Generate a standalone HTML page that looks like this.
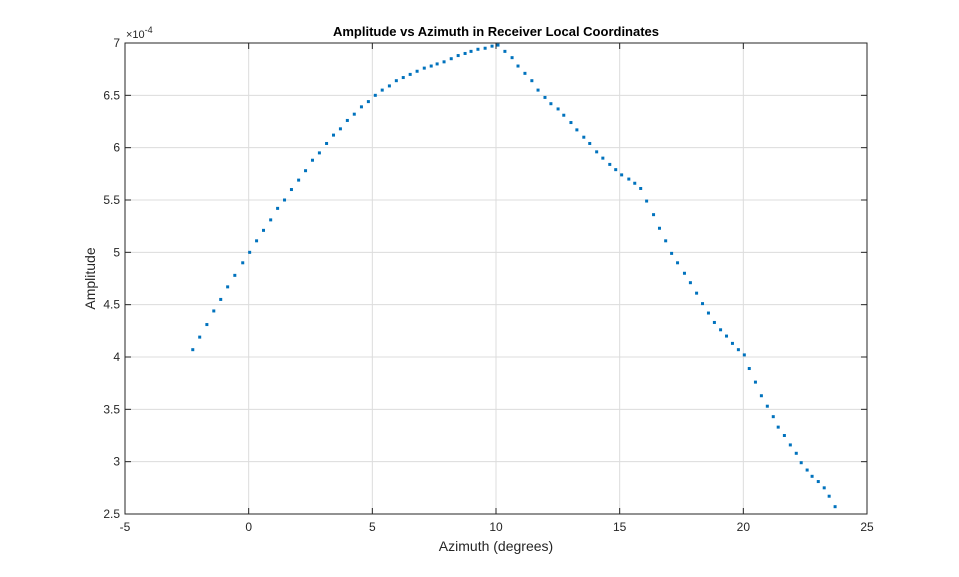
<!DOCTYPE html>
<html><head><meta charset="utf-8"><style>
body{margin:0;background:#fff;}
svg{display:block;font-family:"Liberation Sans",sans-serif;}
</style></head><body>
<svg id="chart" width="959" height="577" viewBox="0 0 959 577"></svg>
<script>
const azimuth=[-2.26,-1.98,-1.69,-1.41,-1.13,-0.85,-0.56,-0.24,0.04,0.32,0.60,0.89,1.17,1.45,1.73,2.02,2.30,2.58,2.86,3.15,3.43,3.71,3.99,4.27,4.56,4.84,5.12,5.40,5.69,5.97,6.25,6.53,6.81,7.10,7.38,7.62,7.90,8.19,8.47,8.75,8.99,9.27,9.56,9.84,10.08,10.36,10.65,10.89,11.17,11.45,11.70,11.98,12.22,12.51,12.74,13.03,13.27,13.55,13.79,14.07,14.32,14.60,14.84,15.08,15.37,15.61,15.85,16.09,16.37,16.61,16.86,17.10,17.34,17.62,17.86,18.11,18.35,18.59,18.83,19.08,19.32,19.56,19.80,20.04,20.24,20.49,20.73,20.97,21.21,21.41,21.66,21.90,22.14,22.34,22.58,22.78,23.03,23.27,23.47,23.71];
const amplitude=[4.07,4.19,4.31,4.44,4.55,4.67,4.78,4.90,5.00,5.11,5.21,5.31,5.42,5.50,5.60,5.69,5.78,5.88,5.95,6.04,6.12,6.18,6.26,6.32,6.39,6.44,6.50,6.55,6.59,6.64,6.67,6.70,6.73,6.76,6.78,6.80,6.82,6.85,6.88,6.90,6.92,6.94,6.95,6.97,6.98,6.92,6.86,6.78,6.71,6.64,6.55,6.48,6.42,6.37,6.31,6.24,6.17,6.10,6.04,5.96,5.90,5.84,5.79,5.74,5.70,5.66,5.61,5.49,5.36,5.23,5.11,4.99,4.90,4.80,4.71,4.61,4.51,4.42,4.33,4.26,4.20,4.13,4.07,4.02,3.89,3.76,3.63,3.53,3.43,3.33,3.25,3.16,3.08,2.99,2.92,2.86,2.81,2.75,2.67,2.57];
const xTicks=[-5,0,5,10,15,20,25];
const yTicks=[2.5,3,3.5,4,4.5,5,5.5,6,6.5,7];
const xTickLabels=["-5","0","5","10","15","20","25"];
const yTickLabels=["2.5","3","3.5","4","4.5","5","5.5","6","6.5","7"];

const L=125,R=867,T=43,B=514;
const xMin=-5,xMax=25,yMin=2.5,yMax=7;
const sx=v=>L+(v-xMin)/(xMax-xMin)*(R-L);
const sy=v=>B-(v-yMin)/(yMax-yMin)*(B-T);
const NS="http://www.w3.org/2000/svg";
const svg=document.getElementById('chart');
function mk(tag,attrs,parent){const e=document.createElementNS(NS,tag);for(const k in attrs)e.setAttribute(k,attrs[k]);(parent||svg).appendChild(e);return e;}

const bg=mk('rect',{x:L,y:T,width:R-L,height:B-T,fill:'#fff'});



const grid=mk('g',{stroke:'#dcdcdc','stroke-width':1});


xTicks.forEach(v=>{if(v>xMin&&v<xMax)mk('line',{x1:sx(v),x2:sx(v),y1:T,y2:B},grid);});
yTicks.forEach(v=>{if(v>yMin&&v<yMax)mk('line',{x1:L,x2:R,y1:sy(v),y2:sy(v)},grid);});

const box=mk('rect',{x:L,y:T,width:R-L,height:B-T,fill:'none',stroke:'#262626','stroke-width':1});



const ticks=mk('g',{stroke:'#262626','stroke-width':1});


xTicks.forEach((v,i)=>{
  mk('line',{x1:sx(v),x2:sx(v),y1:B,y2:B-6},ticks);
  mk('line',{x1:sx(v),x2:sx(v),y1:T,y2:T+6},ticks);
  const t=mk('text',{x:sx(v),y:B+17,'text-anchor':'middle','font-size':12,fill:'#262626'});
  
  
  t.textContent=xTickLabels[i];
});
yTicks.forEach((v,i)=>{
  mk('line',{x1:L,x2:L+6,y1:sy(v),y2:sy(v)},ticks);
  mk('line',{x1:R,x2:R-6,y1:sy(v),y2:sy(v)},ticks);
  const t=mk('text',{x:L-5,y:sy(v)+4,'text-anchor':'end','font-size':12,fill:'#262626'});
  
  
  t.textContent=yTickLabels[i];
});

const pts=mk('g',{fill:'#0072BD'});


azimuth.forEach((a,i)=>{
  const r=mk('rect',{x:sx(a)-1.5,y:sy(amplitude[i])-1.5,width:3,height:3},pts);
  
  
});

const title=mk('text',{x:(L+R)/2,y:36,'text-anchor':'middle','font-size':13,'font-weight':'bold',fill:'#000'});


title.textContent='Amplitude vs Azimuth in Receiver Local Coordinates';

const xl=mk('text',{x:(L+R)/2,y:551,'text-anchor':'middle','font-size':14,fill:'#262626'});


xl.textContent='Azimuth (degrees)';

const yl=mk('text',{x:0,y:0,'text-anchor':'middle','font-size':14,fill:'#262626',transform:'translate(95,'+((T+B)/2)+') rotate(-90)'});


yl.textContent='Amplitude';

const ex=mk('text',{x:126,y:38,'font-size':11,fill:'#262626'});


ex.innerHTML='×10<tspan dy="-5" font-size="9">-4</tspan>';
</script>
</body></html>
